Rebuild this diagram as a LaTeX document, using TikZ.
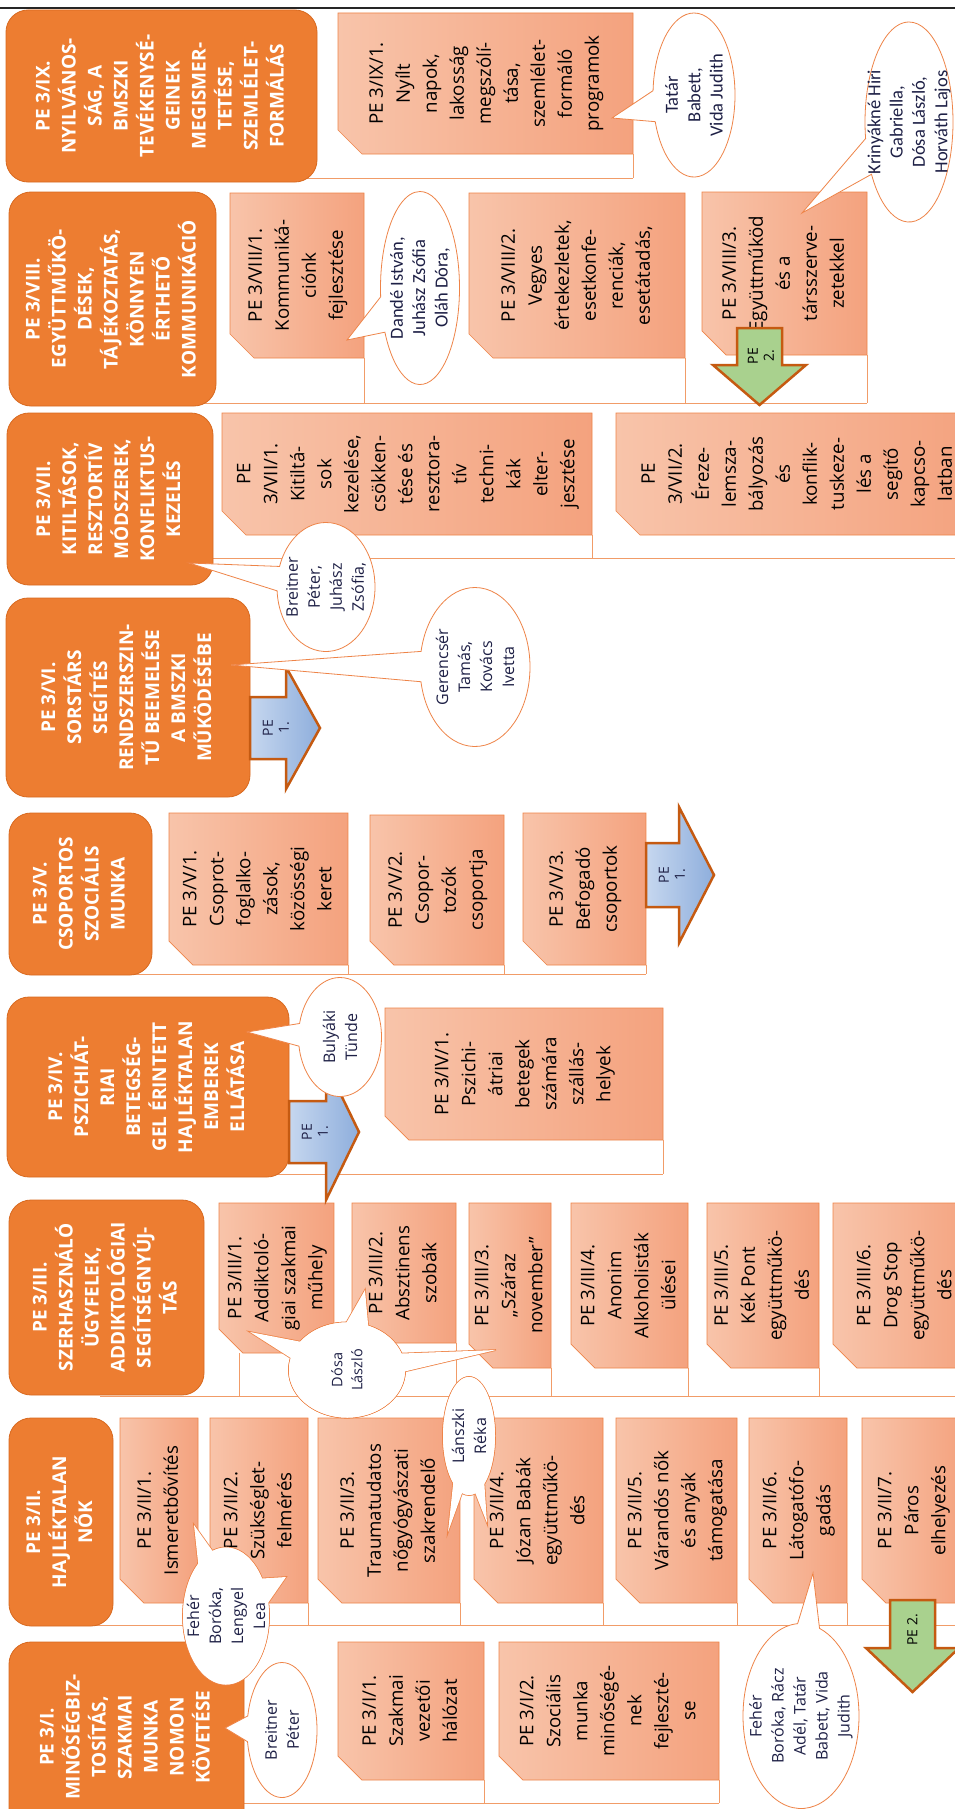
\documentclass[tikz,border=0pt]{standalone}
\usepackage{fontspec}
\setmainfont{Open Sans}
\newfontfamily\calfont{Carlito}
\usepackage{graphicx}
\usepackage{tikz}
\usetikzlibrary{shapes.callouts}
\pgfdeclarelayer{background}
\pgfsetlayers{background,main}
\definecolor{hdorange}{HTML}{ED7D31}
\definecolor{hdedge}{HTML}{D8691F}
\definecolor{boxlight}{HTML}{F8C4AA}
\definecolor{boxdark}{HTML}{F4A27E}
\definecolor{boxedge}{HTML}{EE8448}
\definecolor{linkline}{HTML}{F19C68}
\definecolor{arrowedge}{HTML}{C55A11}
\definecolor{pegreen}{HTML}{A9D18E}
\definecolor{bluelight}{HTML}{C6D7EF}
\definecolor{bluedark}{HTML}{8EAEDC}
\definecolor{nametext}{HTML}{1E2046}
\newcommand\vtext[1]{\rotatebox{90}{\begin{tabular}{@{}c@{}}#1\end{tabular}}}
\def\pebox#1#2#3#4#5#6{
  \node[petext, minimum width=#4pt, minimum height=#5pt] (#1) at (#2,#3) {\vtext{#6}};
  \begin{pgfonlayer}{background}
    \draw[peshape] (#1.north west) -- (#1.north east) -- (#1.south east)
      -- ([xshift=24pt]#1.south west) -- ([yshift=24pt]#1.south west) -- cycle;
  \end{pgfonlayer}
}
\tikzset{
  header/.style={rectangle, rounded corners=22pt, fill=hdorange, draw=hdedge, line width=0.8pt,
    inner sep=0pt, outer sep=0pt, anchor=north west, text=white,
    font=\fontsize{19}{26}\selectfont\bfseries},
  petext/.style={rectangle, inner sep=0pt, outer sep=0pt, anchor=north west, text=black,
    font=\fontsize{18.7}{27}\selectfont},
  peshape/.style={left color=boxlight, right color=boxdark, draw=boxedge, line width=0.7pt},
  bracket/.style={draw=linkline, line width=1pt},
  callout/.style={ellipse callout, draw=boxedge, line width=0.8pt, fill=white,
    inner sep=0pt, outer sep=0pt, callout pointer arc=22},
  calledge/.style={callout, line width=1.6pt},
  callfill/.style={callout, draw=none},
  names/.style={rotate=90, align=center, inner sep=0pt, text=nametext,
    font=\fontsize{16}{22}\selectfont},
  namesc/.style={names, font=\calfont\fontsize{18.5}{22.3}\selectfont},
  bluearrow/.style={left color=bluelight, right color=bluedark, draw=arrowedge, line width=2.5pt},
  greenarrow/.style={fill=pegreen, draw=arrowedge, line width=2.5pt},
  arrowtext/.style={rotate=90, align=center, inner sep=0pt, text=nametext,
    font=\fontsize{14}{16}\selectfont}
}

\begin{document}
\begin{tikzpicture}[x=1pt,y=-1pt]
  \useasboundingbox (0,0) rectangle (955,1809);
  \begin{pgfonlayer}{background}
    \fill[white] (0,0) rectangle (955,1809);
  \end{pgfonlayer}
  \draw[line width=2pt, black!85] (0,8) -- (955,8);

  % headers
  \node[header, minimum width=311pt, minimum height=172pt] (h9) at (6,10)
    {\vtext{PE 3/IX.\\NYILVÁNOS-\\SÁG, A\\BMSZKI\\TEVÉKENYSÉ-\\GEINEK\\MEGISMER-\\TETÉSE,\\SZEMLÉLET-\\FORMÁLÁS}};
  \node[header, minimum width=207pt, minimum height=214pt] (h8) at (9,192)
    {\vtext{PE 3/VIII.\\EGYÜTTMŰKÖ-\\DÉSEK,\\TÁJÉKOZTATÁS,\\KÖNNYEN\\ÉRTHETŐ\\KOMMUNIKÁCIÓ}};
  \node[header, minimum width=206pt, minimum height=172pt] (h7) at (7,413)
    {\vtext{PE 3/VII.\\KITILTÁSOK,\\RESZTORTÍV\\MÓDSZEREK,\\KONFLIKTUS-\\KEZELÉS}};
  \node[header, minimum width=244pt, minimum height=199pt] (h6) at (6,598)
    {\vtext{PE 3/VI.\\SORSTÁRS\\SEGÍTÉS\\RENDSZERSZIN-\\TŰ BEEMELÉSE\\A BMSZKI\\MŰKÖDÉSÉBE}};
  \node[header, minimum width=143pt, minimum height=162pt] (h5) at (9,813)
    {\vtext{PE 3/V.\\CSOPORTOS\\SZOCIÁLIS\\MUNKA}};
  \node[header, minimum width=282pt, minimum height=180pt] (h4) at (7,997)
    {\vtext{PE 3/IV.\\PSZICHIÁT-\\RIAI\\BETEGSÉG-\\GEL ÉRINTETT\\HAJLÉKTALAN\\EMBEREK\\ELLÁTÁSA}};
  \node[header, minimum width=195pt, minimum height=195pt] (h3) at (9,1200)
    {\vtext{PE 3/III.\\SZERHASZNÁLÓ\\ÜGYFELEK,\\ADDIKTOLÓGIAI\\SEGÍTSÉGNYÚJ-\\TÁS}};
  \node[header, minimum width=104pt, minimum height=208pt] (h2) at (9,1418)
    {\vtext{PE 3/II.\\HAJLÉKTALAN\\NŐK}};
  \node[header, minimum width=235pt, minimum height=190pt] (h1) at (9,1642)
    {\vtext{PE 3/I.\\MINŐSÉGBIZ-\\TOSÍTÁS,\\SZAKMAI\\MUNKA\\NOMON\\KÖVETÉSE}};

  % boxes
  \pebox{b91}{338}{13}{295}{141}{PE 3/IX/1.\\Nyílt\\napok,\\lakosság\\megszólí-\\tása,\\szemlélet-\\formáló\\programok}
  \pebox{b81}{230}{193}{134}{165}{PE 3/VIII/1.\\Kommuniká-\\ciónk\\fejlesztése}
  \pebox{b82}{469}{193}{216}{165}{PE 3/VIII/2.\\Vegyes\\értekezletek,\\esetkonfe-\\renciák,\\esetátadás,}
  \pebox{b83}{702}{192}{165}{163}{PE 3/VIII/3.\\Együttműköd\\és a\\társszerve-\\zetekkel}
  \pebox{b71}{222}{413}{370}{122}{PE\\3/VII/1.\\Kitiltá-\\sok\\kezelése,\\csökken-\\tése és\\resztora-\\tív\\techni-\\kák\\elter-\\jesztése}
  \pebox{b72}{616}{413}{364}{122}{PE\\3/VII/2.\\Éreze-\\lemsza-\\bályozás\\és\\konflik-\\tuskeze-\\lés a\\segítő\\kapcso-\\latban}
  \pebox{b51}{169}{813}{179}{152}{PE 3/V/1.\\Csoprot-\\foglalko-\\zások,\\közösségi\\keret}
  \pebox{b52}{370}{815}{134}{150}{PE 3/V/2.\\Csopor-\\tozók\\csoportja}
  \pebox{b53}{523}{813}{123}{152}{PE 3/V/3.\\Befogadó\\csoportok}
  \pebox{b41}{385}{1008}{278}{132}{PE 3/IV/1.\\Pszichi-\\átriai\\betegek\\számára\\szállás-\\helyek}
  \pebox{b31}{219}{1203}{115}{150}{PE 3/III/1.\\Addiktoló-\\giai szakmai\\műhely}
  \pebox{b32}{352}{1203}{104}{140}{PE 3/III/2.\\Absztinens\\szobák}
  \pebox{b33}{469}{1203}{82}{165}{PE 3/III/3.\\„Száraz\\november”}
  \pebox{b34}{571}{1203}{117}{165}{PE 3/III/4.\\Anonim\\Alkoholisták\\ülései}
  \pebox{b35}{707}{1203}{112}{165}{PE 3/III/5.\\Kék Pont\\együttműkö-\\dés}
  \pebox{b36}{833}{1203}{145}{165}{PE 3/III/6.\\Drog Stop\\együttműkö-\\dés}
  \pebox{b21}{120}{1418}{78}{185}{PE 3/II/1.\\Ismeretbővítés}
  \pebox{b22}{210}{1418}{98}{185}{PE 3/II/2.\\Szükséglet-\\felmérés}
  \pebox{b23}{318}{1418}{142}{185}{PE 3/II/3.\\Traumatudatos\\nőgyógyászati\\szakrendelő}
  \pebox{b24}{474}{1418}{129}{185}{PE 3/II/4.\\Józan Babák\\együttműkö-\\dés}
  \pebox{b25}{616}{1418}{121}{185}{PE 3/II/5.\\Várandós nők\\és anyák\\támogatása}
  \pebox{b26}{749}{1418}{98}{185}{PE 3/II/6.\\Látogatófo-\\gadás}
  \pebox{b27}{862}{1418}{102}{185}{PE 3/II/7.\\Páros\\elhelyezés}
  \pebox{b11}{338}{1642}{146}{138}{PE 3/I/1.\\Szakmai\\vezetői\\hálózat}
  \pebox{b12}{499}{1642}{220}{138}{PE 3/I/2.\\Szociális\\munka\\minőségé-\\nek\\fejleszté-\\se}

  % bracket lines under each row
  \begin{pgfonlayer}{background}
    \coordinate (k9) at (160,178);
    \coordinate (k8) at (110,403);
    \coordinate (k7) at (110,558);
    \coordinate (k5) at (80,974);
    \coordinate (k4) at (150,1174);
    \coordinate (k3) at (100,1396);
    \coordinate (k2) at (60,1625);
    \coordinate (k1) at (120,1803);
    \coordinate (b31t) at ([xshift=20pt]b31.south west);
    \draw[bracket] (k9) -- (k9 -| b91.east) (b91.south east) -- (b91.south east |- k9);
    \draw[bracket] (k8) -- (k8 -| b83.east) (b81.south east) -- (b81.south east |- k8)
      (b82.south east) -- (b82.south east |- k8) (b83.south east) -- (b83.south east |- k8);
    \draw[bracket] (k7) -- (k7 -| b72.east) (b71.south east) -- (b71.south east |- k7);
    \draw[bracket] (k5) -- (k5 -| b53.east) (b51.south east) -- (b51.south east |- k5)
      (b52.south east) -- (b52.south east |- k5) (b53.south east) -- (b53.south east |- k5);
    \draw[bracket] (k4) -- (k4 -| b41.east) (b41.south east) -- (b41.south east |- k4);
    \draw[bracket] (k3) -- (k3 -| b36.east) (b31t) -- (b31t |- k3)
      (b32.south east) -- (b32.south east |- k3) (b33.south east) -- (b33.south east |- k3)
      (b34.south east) -- (b34.south east |- k3) (b35.south east) -- (b35.south east |- k3);
    \draw[bracket] (k2) -- (k2 -| b27.east) (b21.south east) -- (b21.south east |- k2)
      (b22.south east) -- (b22.south east |- k2) (b23.south east) -- (b23.south east |- k2)
      (b24.south east) -- (b24.south east |- k2) (b25.south east) -- (b25.south east |- k2)
      (b26.south east) -- (b26.south east |- k2);
    \draw[bracket] (k1) -- (k1 -| b12.east) (b11.south east) -- (b11.south east |- k1)
      (b12.south east) -- (b12.south east |- k1);
  \end{pgfonlayer}

  % block arrows
  \draw[bluearrow] (250,697) -- (286,697) -- (286,667) -- (320,728) -- (286,789) -- (286,759) -- (250,759) -- cycle;
  \node[arrowtext] (a6) at (276,728) {PE\\1.};
  \draw[bluearrow] (646,843) -- (679,843) -- (679,807) -- (714,875) -- (679,943) -- (679,907) -- (646,907) -- cycle;
  \node[arrowtext] (a5) at (672,875) {PE\\1.};
  \draw[bluearrow] (289,1101) -- (326,1101) -- (326,1064) -- (359,1132) -- (326,1200) -- (326,1163) -- (289,1163) -- cycle;
  \node[arrowtext] (a4) at (315,1132) {PE\\1.};
  \draw[greenarrow] (737,328) -- (782,328) -- (782,365) -- (806,365) -- (759.5,405) -- (713,365) -- (737,365) -- cycle;
  \node[arrowtext, text=black] (a8) at (761,356) {PE\\2.};
  \draw[greenarrow] (890,1600) -- (935,1600) -- (935,1648) -- (959,1648) -- (912.5,1692) -- (866,1648) -- (890,1648) -- cycle;
  \node[arrowtext, text=black] (a2) at (912.5,1630) {PE 2.};

  % callouts
  \node[callout, minimum width=82pt, minimum height=164pt, callout absolute pointer={(612,118)}] (c9) at (694,95) {};
  \node[namesc] (c9t) at (c9.center) {Tatár\\Babett,\\Vida Judith};
  \node[callout, minimum width=88pt, minimum height=200pt, callout absolute pointer={(802,213)}] (c8b) at (909,122) {};
  \node[namesc] (c8bt) at (c8b.center) {Krinyákné Hiri\\Gabriella,\\Dósa László,\\Horváth Lajos};
  \node[callout, minimum width=79pt, minimum height=193pt, callout absolute pointer={(347,340)}] (c8a) at (420,288) {};
  \node[namesc] (c8at) at (c8a.center) {Dandé István,\\Juhász Zsófia\\Oláh Dóra,};
  \node[callout, minimum width=98pt, minimum height=129pt, callout absolute pointer={(189,563)}] (c7) at (326,587) {};
  \node[names] (c7t) at (c7.center) {Breitner\\Péter,\\Juhász\\Zsófia,};
  \node[callout, minimum width=110pt, minimum height=159pt, callout absolute pointer={(231,665)}] (c6) at (475,667) {};
  \node[names] (c6t) at (c6.center) {Gerencsér\\Tamás,\\Kovács\\Ivetta};
  \node[callout, minimum width=83pt, minimum height=119pt, callout absolute pointer={(247,1032)}] (c4) at (340,1037) {};
  \node[names] (c4t) at (c4.center) {Bulyáki\\Tünde};
  \node[calledge, minimum width=116pt, minimum height=95pt, callout absolute pointer={(250,1332)}] (c3a) at (347,1370) {};
  \node[calledge, minimum width=116pt, minimum height=95pt, callout absolute pointer={(365,1290)}] (c3b) at (347,1370) {};
  \node[calledge, minimum width=116pt, minimum height=95pt, callout absolute pointer={(496,1350)}] (c3c) at (347,1370) {};
  \node[callfill, minimum width=116pt, minimum height=95pt, callout absolute pointer={(250,1332)}] (c3d) at (347,1370) {};
  \node[callfill, minimum width=116pt, minimum height=95pt, callout absolute pointer={(365,1290)}] (c3e) at (347,1370) {};
  \node[callfill, minimum width=116pt, minimum height=95pt, callout absolute pointer={(496,1350)}] (c3f) at (347,1370) {};
  \node[names, font=\fontsize{14.5}{20}\selectfont] (c3t) at (c3a.center) {Dósa\\László};
  \node[calledge, minimum width=52pt, minimum height=118pt, callout absolute pointer={(448,1532)}] (c2a) at (469,1436) {};
  \node[calledge, minimum width=52pt, minimum height=118pt, callout absolute pointer={(487,1523)}] (c2b) at (469,1436) {};
  \node[callfill, minimum width=52pt, minimum height=118pt, callout absolute pointer={(448,1532)}] (c2c) at (469,1436) {};
  \node[callfill, minimum width=52pt, minimum height=118pt, callout absolute pointer={(487,1523)}] (c2d) at (469,1436) {};
  \node[names] (c2at) at (c2a.center) {Lánszki\\Réka};
  \node[callout, minimum width=70pt, minimum height=135pt, callout absolute pointer={(225,1728)}] (c1a) at (282,1730) {};
  \node[names] (c1at) at (c1a.center) {Breitner\\Péter};
  \node[calledge, minimum width=86pt, minimum height=137pt, callout absolute pointer={(194,1525)}] (c2e) at (226,1616) {};
  \node[calledge, minimum width=86pt, minimum height=137pt, callout absolute pointer={(286,1577)}] (c2f) at (226,1616) {};
  \node[callfill, minimum width=86pt, minimum height=137pt, callout absolute pointer={(194,1525)}] (c2g) at (226,1616) {};
  \node[callfill, minimum width=86pt, minimum height=137pt, callout absolute pointer={(286,1577)}] (c2h) at (226,1616) {};
  \node[names] (c2et) at (c2e.center) {Fehér\\Boróka,\\Lengyel\\Lea};
  \node[callout, minimum width=116pt, minimum height=185pt, callout absolute pointer={(813,1573)}] (c1b) at (801,1716) {};
  \node[names] (c1bt) at (c1b.center) {Fehér\\Boróka, Rácz\\Adél, Tatár\\Babett, Vida\\Judith};
\end{tikzpicture}
\end{document}
